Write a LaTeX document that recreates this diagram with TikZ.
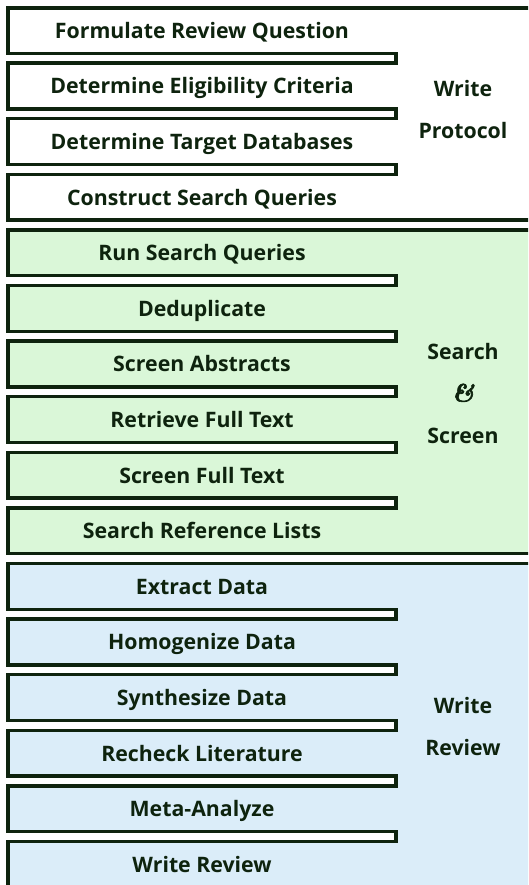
\documentclass[tikz,border=0pt]{standalone}
\usepackage{fontspec}
\newfontfamily\stepfont{Open Sans}
\newfontfamily\ampfont{lmroman10-bolditalic.otf}[RawFeature={embolden=2.5}]
\definecolor{ink}{HTML}{0E230E}
\definecolor{greenfill}{HTML}{DAF7D8}
\definecolor{bluefill}{HTML}{DBEDF9}
\begin{document}
\begin{tikzpicture}[x=1pt,y=-1pt,
  grp/.style={draw=ink, line width=3.4pt},
  slotline/.style={draw=ink, line width=3.4pt},
  steptext/.style={anchor=base, font=\stepfont\bfseries\fontsize{21.3}{25}\selectfont, text=ink, inner sep=0pt},
  grouplabel/.style={anchor=base, font=\stepfont\bfseries\fontsize{21.3}{25}\selectfont, text=ink, inner sep=0pt}]
\useasboundingbox (0,0) rectangle (528,885);
\begin{scope}
\clip (0,0) rectangle (528,885);
% groups
\draw[grp, fill=white] (8,8) rectangle (560,220.15);
\draw[grp, fill=greenfill] (8,229.95) rectangle (560,553.75);
\draw[grp, fill=bluefill] (8,563.55) rectangle (560,895);
% slots between steps
\foreach \k in {0,1,2,4,5,6,7,8,10,11,12,13,14}{
  \pgfmathsetmacro{\s}{58.25+55.6*\k}
  \fill[white] (0,\s-4.9) rectangle (396,\s+4.9);
  \draw[slotline] (6.3,\s-4.9) -- (396,\s-4.9) -- (396,\s+4.9) -- (6.3,\s+4.9);
}
\end{scope}
% step texts
\foreach \i/\t in {0/Formulate Review Question,1/Determine Eligibility Criteria,2/Determine Target Databases,3/Construct Search Queries,4/Run Search Queries,5/Deduplicate,6/Screen Abstracts,7/Retrieve Full Text,8/Screen Full Text,9/Search Reference Lists,10/Extract Data,11/Homogenize Data,12/Synthesize Data,13/Recheck Literature,14/Meta-Analyze,15/Write Review}{
  \node[steptext] (s\i) at (202,{30.75+55.6*\i+7.5}) {\t};
}
% group labels
\node[grouplabel] (wp1) at (463,96.5) {Write};
\node[grouplabel] (wp2) at (463,138.5) {Protocol};
\node[grouplabel] (ss1) at (463,359.5) {Search};
\node[grouplabel] (ss2) at (463,401.5) {{\ampfont\fontsize{25}{25}\selectfont\&}};
\node[grouplabel] (ss3) at (463,443.5) {Screen};
\node[grouplabel] (wr1) at (463,713.5) {Write};
\node[grouplabel] (wr2) at (463,755.5) {Review};
\end{tikzpicture}
\end{document}
